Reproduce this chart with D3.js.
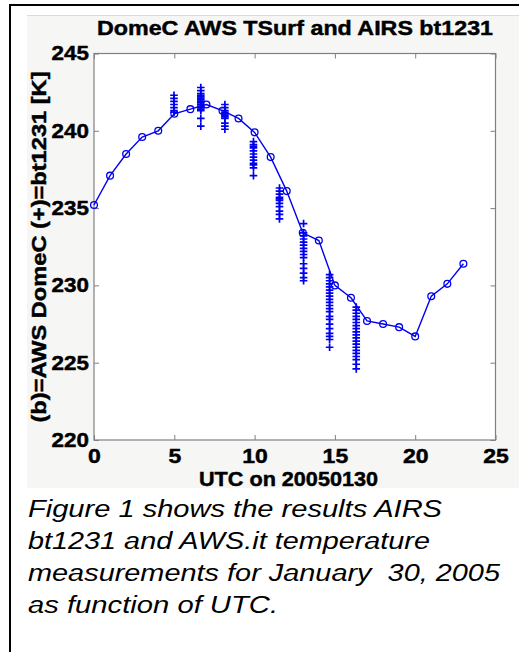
<!DOCTYPE html>
<html><head><meta charset="utf-8">
<script src="https://cdn.jsdelivr.net/npm/d3@7"></script>
<style>body{margin:0;background:#fff}svg{display:block}</style>
</head><body>
<svg id="c" width="519" height="652"></svg>
<script>
// ---- data ----
const awsHour = [0,1,2,3,4,5,6,7,8,9,10,11,12,13,14,15,16,17,18,19,20,21,22,23];
const awsTemp = [235.2,237.1,238.5,239.6,240.0,241.1,241.4,241.7,241.3,240.8,239.9,238.3,236.1,233.4,232.9,230.0,229.2,227.7,227.5,227.3,226.7,229.3,230.1,231.4];
const airsPassUTC = [4.98, 6.65, 8.15, 9.93, 11.55, 13.05, 14.67, 16.33];
const airsPassBT = [
  [242.3,242.1,241.9,241.7,241.5,241.3,241.2],
  [242.8,242.6,242.4,242.3,242.2,242.1,242.0,241.9,241.8,241.7,241.6,241.5,241.4,241.3,240.8,240.3],
  [241.7,241.5,241.3,241.2,241.1,241.0,240.9,240.8,240.5,240.3,240.1],
  [239.3,239.1,239.0,238.9,238.7,238.5,238.3,238.1,237.9,237.8,237.6,237.1],
  [236.3,236.1,235.9,235.7,235.6,235.5,235.3,235.1,234.8,234.6,234.3],
  [234.0,233.4,233.2,233.0,232.8,232.6,232.4,232.2,232.0,231.8,231.4,231.1,230.8,230.5,230.3],
  [230.7,230.5,230.3,230.1,229.9,229.7,229.5,229.3,229.1,228.9,228.7,228.5,228.3,228.0,227.8,227.5,227.2,226.9,226.7,226.5,226.0],
  [228.6,228.4,228.2,228.0,227.8,227.6,227.4,227.2,227.0,226.8,226.6,226.4,226.2,226.0,225.8,225.6,225.4,225.2,224.9,224.6]
];
const xTicks = [0,5,10,15,20,25];
const yTicks = [220,225,230,235,240,245];
const titleText = "DomeC AWS TSurf and AIRS bt1231";
const xLabel = "UTC on 20050130";
const yLabel = "(b)=AWS DomeC (+)=bt1231 [K]";
const caption = ["Figure 1 shows the results AIRS","bt1231 and AWS.it temperature","measurements for January  30, 2005","as function of UTC."];

// ---- drawing ----
const svg = d3.select("#c");
const FONT = "'Liberation Sans', Arial, Helvetica, sans-serif";
const BLUE = "#0000f0";
const L = 94, R = 495.5, T = 53.5, B = 440;
const x = d3.scaleLinear().domain([0,25]).range([L,R]);
const y = d3.scaleLinear().domain([220,245]).range([B,T]);

function stretch(sel, factor){
  sel.each(function(){
    const w = this.getComputedTextLength();
    d3.select(this).attr("textLength", (w*factor).toFixed(1)).attr("lengthAdjust","spacingAndGlyphs");
  });
}
const heavy = s => s.attr("stroke","#000").attr("stroke-width",0.45);

// outer page frame
svg.append("rect").attr("x",0).attr("y",0).attr("width",519).attr("height",652).attr("fill","#fff");
svg.append("rect").attr("x",27).attr("y",15).attr("width",492).attr("height",473).attr("fill","#f6f6f4");
svg.append("line").attr("x1",27).attr("x2",519).attr("y1",15.5).attr("y2",15.5).attr("stroke","#dcdcd4").attr("stroke-width",1);
svg.append("line").attr("x1",10).attr("x2",10).attr("y1",4).attr("y2",652).attr("stroke","#000").attr("stroke-width",2);
svg.append("line").attr("x1",9).attr("x2",519).attr("y1",5).attr("y2",5).attr("stroke","#000").attr("stroke-width",2);

// plot area
svg.append("rect").attr("x",L).attr("y",T).attr("width",R-L).attr("height",B-T).attr("fill","#fff");

const axStyle = g => {
  g.select(".domain").remove();
  g.selectAll(".tick line").attr("stroke","#808080");
  g.selectAll("text").attr("fill","#000").attr("font-family",FONT).attr("font-weight","bold").attr("font-size",20).call(heavy);
};
const gx = svg.append("g").attr("transform",`translate(0,${B})`)
  .call(d3.axisBottom(x).tickValues(xTicks).tickSizeInner(-5).tickSizeOuter(0).tickPadding(9)).call(axStyle);
svg.append("g").attr("transform",`translate(0,${T})`)
  .call(d3.axisTop(x).tickValues(xTicks).tickSizeInner(-5).tickSizeOuter(0).tickFormat("")).call(axStyle);
const gy = svg.append("g").attr("transform",`translate(${L},0)`)
  .call(d3.axisLeft(y).tickValues(yTicks).tickSizeInner(-5).tickSizeOuter(0).tickPadding(5)).call(axStyle);
svg.append("g").attr("transform",`translate(${R},0)`)
  .call(d3.axisRight(y).tickValues(yTicks).tickSizeInner(-5).tickSizeOuter(0).tickFormat("")).call(axStyle);
stretch(gx.selectAll("text"), 1.15);
stretch(gy.selectAll("text"), 1.12);

svg.append("rect").attr("x",L).attr("y",T).attr("width",R-L).attr("height",B-T)
  .attr("fill","none").attr("stroke","#808080").attr("stroke-width",1.2);

// AWS line with circles
const aws = awsHour.map((h,i)=>({h, v:awsTemp[i]}));
svg.append("path").datum(aws)
  .attr("d", d3.line().x(d=>x(d.h)).y(d=>y(d.v)))
  .attr("fill","none").attr("stroke",BLUE).attr("stroke-width",1.4);
svg.append("g").selectAll("circle").data(aws).join("circle")
  .attr("cx",d=>x(d.h)).attr("cy",d=>y(d.v)).attr("r",3.4)
  .attr("fill","none").attr("stroke",BLUE).attr("stroke-width",1.3);

// AIRS plus markers
const airs = [];
airsPassUTC.forEach((t,i)=>airsPassBT[i].forEach(v=>airs.push({t,v})));
svg.append("g").selectAll("path").data(airs).join("path")
  .attr("transform",d=>`translate(${x(d.t)},${y(d.v)})`)
  .attr("d","M-3.8,0H3.8M0,-3.8V3.8")
  .attr("stroke",BLUE).attr("stroke-width",1.7).attr("fill","none");

// texts
svg.append("text").attr("x",295).attr("y",35).attr("text-anchor","middle")
  .attr("font-family",FONT).attr("font-weight","bold").attr("font-size",21).call(heavy)
  .attr("textLength",396).attr("lengthAdjust","spacingAndGlyphs").text(titleText);
svg.append("text").attr("x",288.5).attr("y",486).attr("text-anchor","middle")
  .attr("font-family",FONT).attr("font-weight","bold").attr("font-size",20).call(heavy)
  .attr("textLength",179).attr("lengthAdjust","spacingAndGlyphs").text(xLabel);
svg.append("text").attr("transform","translate(46,247) rotate(-90)").attr("text-anchor","middle")
  .attr("font-family",FONT).attr("font-weight","bold").attr("font-size",20).call(heavy)
  .attr("textLength",351).attr("lengthAdjust","spacingAndGlyphs").text(yLabel);

const capLen = [414, 402, 472, 250];
caption.forEach((s,i)=>{
  svg.append("text").attr("x",28).attr("y",517+i*32)
    .attr("font-family",FONT).attr("font-style","italic").attr("font-size",23)
    .attr("textLength",capLen[i]).attr("lengthAdjust","spacingAndGlyphs")
    .style("white-space","pre").text(s);
});
</script>
</body></html>
